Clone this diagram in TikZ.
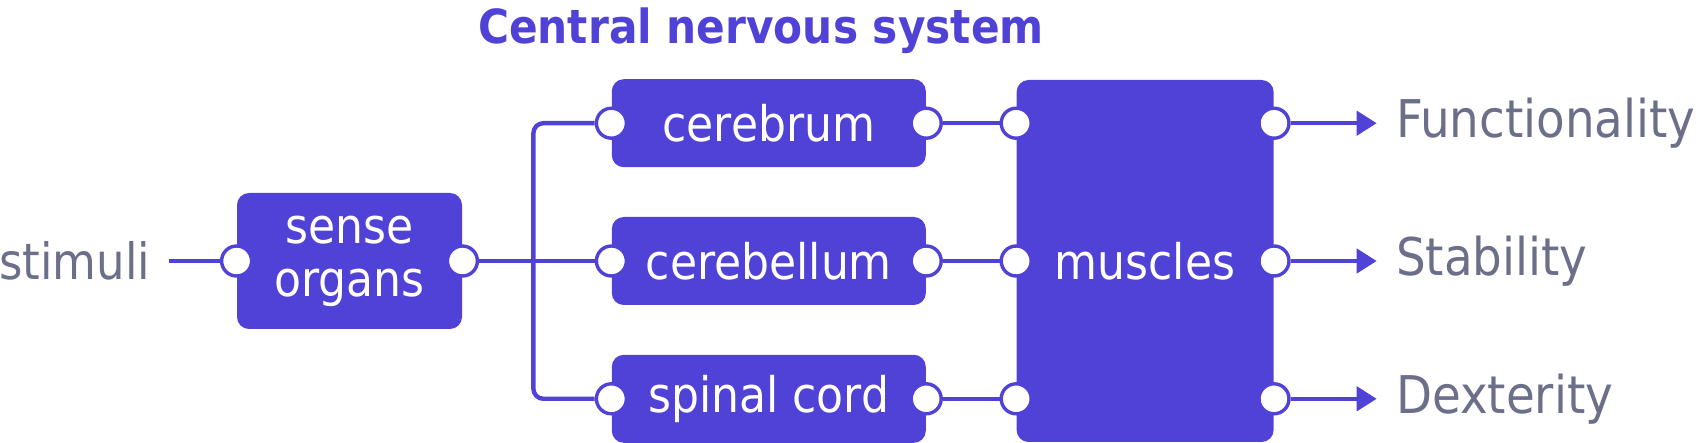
\documentclass[tikz,border=0pt]{standalone}
\usepackage{fontspec}
\setmainfont{DejaVu Sans Condensed}
\usepackage{xcolor}
\definecolor{cnsblue}{HTML}{5042D6}
\definecolor{cnsgrey}{HTML}{6B6F8A}
\usepackage{tikz}
\usetikzlibrary{positioning,arrows.meta}
\tikzset{
  organ/.style={rectangle, rounded corners=6pt, fill=cnsblue, text=white, align=center,
                inner sep=0pt, font=\fontsize{24.5}{26.5}\selectfont},
  lobe/.style ={organ, minimum width=157pt, minimum height=44pt},
  port/.style ={circle, draw=cnsblue, fill=white, line width=1.7pt, inner sep=0pt,
                minimum size=15pt},
  wire/.style ={draw=cnsblue, line width=2.2pt},
  arr/.style  ={wire, -{Triangle[length=10pt, width=12pt]}},
  lbl/.style  ={text=cnsgrey, inner xsep=9.5pt, inner ysep=0pt, font=\fontsize{26}{30}\selectfont},
}

\begin{document}
\begin{tikzpicture}[x=0.5pt, y=-0.5pt]
  \useasboundingbox (0,0) rectangle (1705,443);
  \node[organ, minimum width=112.5pt, minimum height=68pt] (sense) at (349.5,261) {sense\\organs};
  \node[lbl, inner xsep=9pt, font=\fontsize{25}{30}\selectfont, left=34pt of sense] (stimuli) {stimuli};
  \node[lobe, right=74.5pt of sense] (cerebellum) {cerebellum};
  \node[lobe, above=24.5pt of cerebellum] (cerebrum) {cerebrum};
  \node[lobe, below=24.5pt of cerebellum] (spinal) {spinal cord};
  \node[organ, minimum width=128.5pt, minimum height=181pt, right=45pt of cerebellum] (muscles) {muscles};
  \node[text=cnsblue, font=\bfseries\fontsize{23.5}{28}\selectfont] (cns) at (761,31) {Central nervous system};
  \coordinate (bus) at ([xshift=35.5pt]sense.east);
  \foreach \o in {sense, cerebrum, cerebellum, spinal} {
    \node[port] (\o-w) at (\o.west) {};
    \node[port] (\o-e) at (\o.east) {};
  }
  \draw[wire] (stimuli) -- (sense-w);
  \draw[wire] (sense-e) -- (cerebellum-w);
  \draw[wire, rounded corners=5pt] (cerebrum-w) -| (bus) |- (spinal-w);
  \foreach \o/\n/\t in {cerebrum/func/Functionality, cerebellum/stab/Stability, spinal/dext/Dexterity} {
    \node[port] (\n-in) at (muscles.west |- \o) {};
    \node[port] (\n-out) at (muscles.east |- \o) {};
    \node[lbl, right=43pt of \n-out] (\n) {\t};
    \draw[wire] (\o-e) -- (\n-in);
    \draw[arr] (\n-out) -- (\n);
  }
\end{tikzpicture}
\end{document}
